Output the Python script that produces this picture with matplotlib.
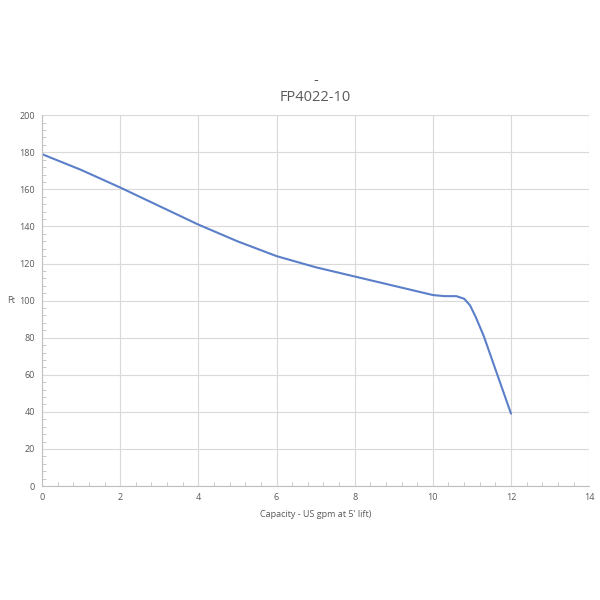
import matplotlib.pyplot as plt
from matplotlib.ticker import MultipleLocator

# Pump curve
capacity = [0, 1, 2, 3, 4, 5, 6, 7, 8, 9, 9.6, 10, 10.3, 10.6, 10.8, 10.95, 11.1, 11.3, 11.5, 11.75, 12]
head_ft = [179, 170.5, 161, 151, 141, 132, 124, 118, 113, 108, 105, 103, 102.4, 102.4, 101, 97.5, 91, 81, 69, 54, 39]

title = "-\nFP4022-10"
x_label = "Capacity - US gpm at 5' lift)"
y_label = "Ft"

text_color = "#595959"
grid_color = "#D9D9D9"
line_color = "#5B7FC8"

plt.rcParams["font.family"] = ["Open Sans", "DejaVu Sans"]

fig = plt.figure(figsize=(6, 6), dpi=100)
ax = fig.add_axes([0.07, 0.19, 0.912, 0.618])

ax.plot(capacity, head_ft, color=line_color, linewidth=1.5,
        solid_capstyle="round", solid_joinstyle="round")

ax.set_xlim(0, 14)
ax.set_ylim(0, 200)
ax.xaxis.set_major_locator(MultipleLocator(2))
ax.yaxis.set_major_locator(MultipleLocator(20))
ax.xaxis.set_minor_locator(MultipleLocator(0.4))
ax.yaxis.set_minor_locator(MultipleLocator(4))
ax.grid(True, which="major", color=grid_color, linewidth=0.8)
ax.set_axisbelow(True)

for side in ["top", "right"]:
  ax.spines[side].set_visible(False)
for side in ["left", "bottom"]:
  ax.spines[side].set_color("#BFBFBF")
  ax.spines[side].set_linewidth(0.8)

ax.tick_params(which="major", length=0, labelsize=6.5, labelcolor=text_color, pad=5)
ax.tick_params(which="minor", direction="in", length=3, color="#BFBFBF")

ax.set_title(title, color=text_color, fontsize=10.5, pad=10, linespacing=1.2)
ax.set_xlabel(x_label, color=text_color, fontsize=6.5, labelpad=6)
ax.set_ylabel(y_label, color=text_color, fontsize=6.5, rotation=0, labelpad=6, va="center")

fig.savefig("out.png", dpi=100, facecolor="white")
